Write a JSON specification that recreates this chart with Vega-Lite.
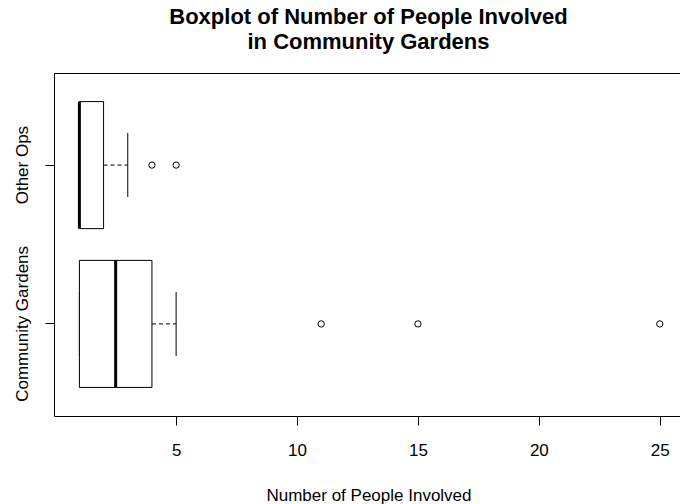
{
  "$schema": "https://vega.github.io/schema/vega-lite/v6.json",
  "autosize": {"type": "none"},
  "padding": {"left": 54, "top": 73, "right": 0, "bottom": 88},
  "width": 629,
  "height": 343,
  "background": "white",
  "title": {
    "text": ["Boxplot of Number of People Involved", "in Community Gardens"],
    "font": "Liberation Sans",
    "fontSize": 22,
    "fontWeight": "bold",
    "color": "black",
    "anchor": "middle",
    "frame": "group",
    "baseline": "alphabetic",
    "lineHeight": 25,
    "offset": 2
  },
  "datasets": {
    "summary": [
      {"group": "Community Gardens", "lo": 1, "q1": 1, "median": 2.5, "q3": 4, "hi": 5},
      {"group": "Other Ops", "lo": 1, "q1": 1, "median": 1, "q3": 2, "hi": 3}
    ],
    "outliers": [
      {"group": "Community Gardens", "value": 11},
      {"group": "Community Gardens", "value": 15},
      {"group": "Community Gardens", "value": 25},
      {"group": "Other Ops", "value": 4},
      {"group": "Other Ops", "value": 5}
    ]
  },
  "encoding": {
    "y": {
      "field": "group",
      "type": "nominal",
      "scale": {"domain": ["Other Ops", "Community Gardens"], "paddingInner": 0.2, "paddingOuter": 0.18},
      "axis": {
        "title": null,
        "domain": false,
        "ticks": true,
        "tickSize": 9,
        "tickColor": "black",
        "labelAngle": -90,
        "labelAlign": "center",
        "labelBaseline": "alphabetic",
        "labelPadding": 18,
        "labelFontSize": 17,
        "labelColor": "black",
        "labelFont": "Liberation Sans"
      }
    }
  },
  "layer": [
    {
      "data": {"name": "summary"},
      "mark": {"type": "rule", "color": "black", "strokeWidth": 1, "strokeDash": [4, 3]},
      "encoding": {
        "x": {
          "field": "q3",
          "type": "quantitative",
          "scale": {"domain": [-0.05, 25.96], "zero": false, "nice": false},
          "axis": {
            "title": "Number of People Involved",
            "values": [5, 10, 15, 20, 25],
            "grid": false,
            "domain": false,
            "tickSize": 9,
            "tickColor": "black",
            "labelFontSize": 17,
            "labelColor": "black",
            "labelFont": "Liberation Sans",
            "labelBaseline": "alphabetic",
            "labelPadding": 30,
            "labelFlush": false,
            "labelOverlap": false,
            "titleFont": "Liberation Sans",
            "titleFontSize": 17,
            "titleFontWeight": "normal",
            "titleColor": "black",
            "titleBaseline": "alphabetic",
            "titleY": 84
          }
        },
        "x2": {"field": "hi"}
      }
    },
    {
      "data": {"name": "summary"},
      "mark": {"type": "rule", "color": "black", "strokeWidth": 1, "strokeDash": [4, 3]},
      "encoding": {
        "x": {"field": "lo", "type": "quantitative"},
        "x2": {"field": "q1"}
      }
    },
    {
      "data": {"name": "summary"},
      "mark": {"type": "tick", "orient": "vertical", "color": "black", "thickness": 1, "size": 64, "opacity": 1},
      "encoding": {"x": {"field": "hi", "type": "quantitative"}}
    },
    {
      "data": {"name": "summary"},
      "mark": {"type": "tick", "orient": "vertical", "color": "black", "thickness": 1, "size": 64, "opacity": 1},
      "encoding": {"x": {"field": "lo", "type": "quantitative"}}
    },
    {
      "data": {"name": "summary"},
      "mark": {"type": "rect", "fill": "white", "stroke": "black", "strokeWidth": 1},
      "encoding": {
        "x": {"field": "q1", "type": "quantitative"},
        "x2": {"field": "q3"}
      }
    },
    {
      "data": {"name": "summary"},
      "mark": {"type": "tick", "orient": "vertical", "color": "black", "thickness": 3, "size": 127, "opacity": 1},
      "encoding": {"x": {"field": "median", "type": "quantitative"}}
    },
    {
      "data": {"name": "outliers"},
      "mark": {"type": "point", "shape": "circle", "filled": false, "color": "black", "strokeWidth": 1, "size": 40, "opacity": 1},
      "encoding": {"x": {"field": "value", "type": "quantitative"}}
    }
  ],
  "config": {
    "font": "Liberation Sans",
    "view": {"stroke": "black", "strokeWidth": 1}
  }
}
